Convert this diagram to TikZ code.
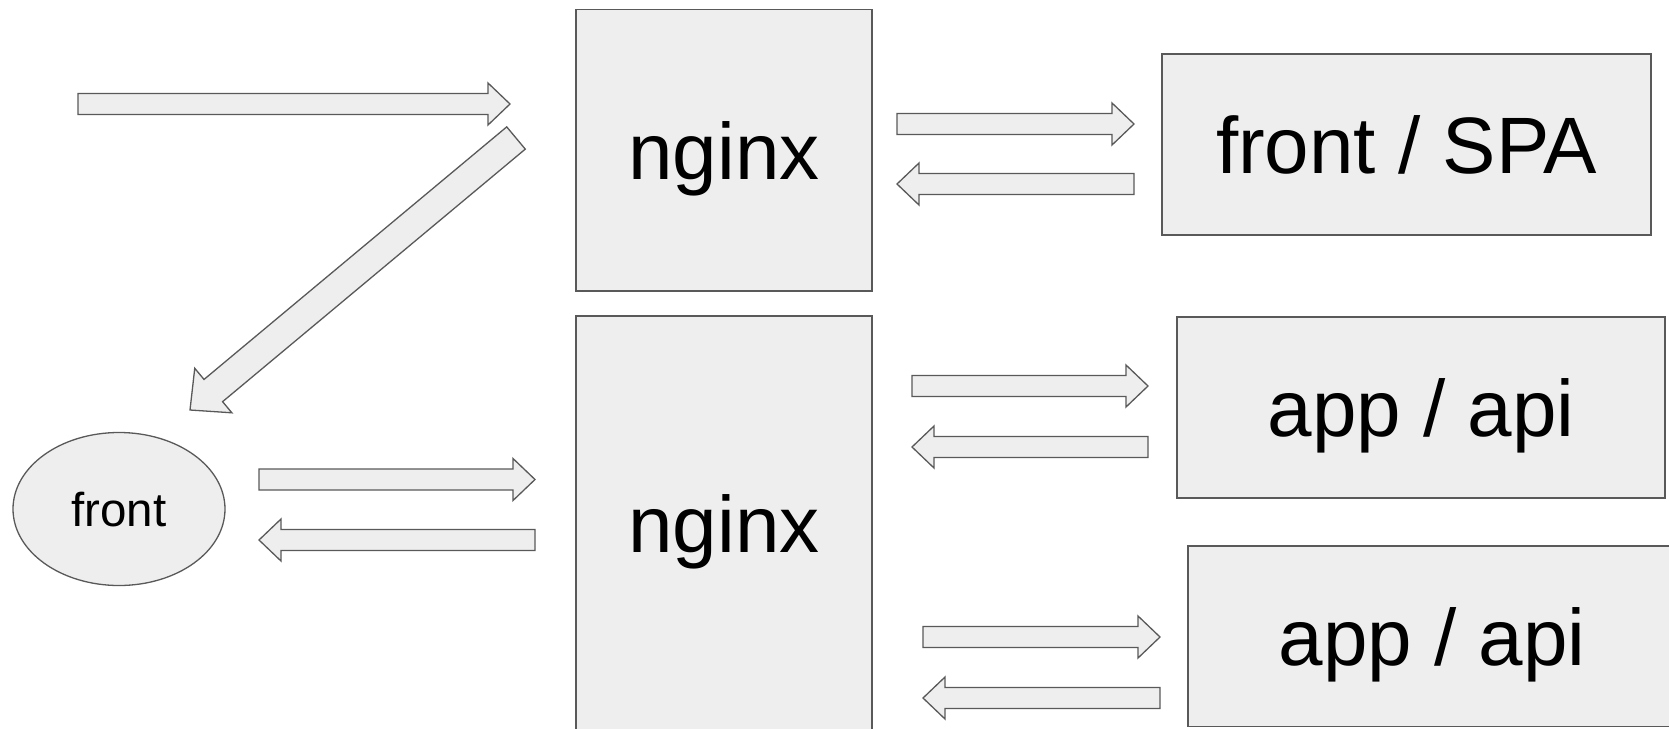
\documentclass[tikz,border=0pt]{standalone}
\usepackage{fontspec}
\setmainfont{Liberation Sans}
\usetikzlibrary{calc,shapes.geometric}
\definecolor{boxgray}{HTML}{EEEEEE}
\definecolor{edgegray}{HTML}{595959}
\tikzset{
%Define style for the servers and the client
server/.style={draw=edgegray, fill=boxgray, line width=1.3pt, inner sep=0pt,
  font=\fontsize{80}{96}\selectfont, text height=58pt, text depth=0pt},
client/.style={ellipse, draw=edgegray, fill=boxgray, line width=1.3pt, inner sep=0pt,
  font=\fontsize{47.5}{57}\selectfont, text height=34pt, text depth=0pt},
%Define style for the block arrows
blockarrow/.style={draw=edgegray, fill=boxgray, line width=1.3pt, line join=miter},
}
%Block arrow from #2 to #3, #1 scales its width
\newcommand{\fatarrow}[3][1]{%
  \draw[blockarrow] let \p1=($(#3)!{22pt*#1}!(#2)$) in
    ($(#2)!{10.5pt*#1}!90:(#3)$) -- ($(\p1)!{10.5pt*#1}!90:(#3)$)
    -- ($(\p1)!{21pt*#1}!90:(#3)$) -- (#3)
    -- ($(\p1)!{21pt*#1}!-90:(#3)$) -- ($(\p1)!{10.5pt*#1}!-90:(#3)$)
    -- ($(#2)!{10.5pt*#1}!-90:(#3)$) -- cycle;
}

\begin{document}
\begin{tikzpicture}[x=1pt, y=-1pt]
    \useasboundingbox (0,0) rectangle (1669,728);
    \clip (0,0) rectangle (1669,728);
    % Servers
    \node[server, minimum width=296pt, minimum height=281.5pt] (nginxtop) at (724,150.25) {nginx};
    \node[server, minimum width=296pt, minimum height=414pt] (nginxbot) at (724,523) {nginx};
    \node[server, minimum width=489pt, minimum height=181pt] (spa) at (1406.5,144.5) {front / SPA};
    \node[server, minimum width=488pt, minimum height=181pt] (apione) at (1421,407.5) {app / api};
    \node[server, minimum width=488pt, minimum height=180.5pt] (apitwo) at (1432,636.25) {app / api};
    % Client
    \node[client, minimum width=212pt, minimum height=153pt] (front) at (119,509) {front};
    % Arrow ends
    \coordinate (req) at (78,104);
    \coordinate (reqin) at (510,104);
    \coordinate (pageout) at (516,138);
    \coordinate (pagein) at (190,410);
    \coordinate (callout) at (259,479.5);
    \coordinate (callin) at (535,479.5);
    \coordinate (backout) at (535,540);
    \coordinate (backin) at (259,540);
    \coordinate (spaout) at (897,124);
    \coordinate (spain) at (1134,124);
    \coordinate (sparet) at (1134,184);
    \coordinate (sparetin) at (897,184);
    \coordinate (oneout) at (912,386);
    \coordinate (onein) at (1148,386);
    \coordinate (oneret) at (1148,447);
    \coordinate (oneretin) at (912,447);
    \coordinate (twoout) at (923,637);
    \coordinate (twoin) at (1160,637);
    \coordinate (tworet) at (1160,698);
    \coordinate (tworetin) at (923,698);
    % Arrows
    \fatarrow{req}{reqin}
    \fatarrow[1.38]{pageout}{pagein}
    \fatarrow{callout}{callin}
    \fatarrow{backout}{backin}
    \fatarrow{spaout}{spain}
    \fatarrow{sparet}{sparetin}
    \fatarrow{oneout}{onein}
    \fatarrow{oneret}{oneretin}
    \fatarrow{twoout}{twoin}
    \fatarrow{tworet}{tworetin}
\end{tikzpicture}
\end{document}
